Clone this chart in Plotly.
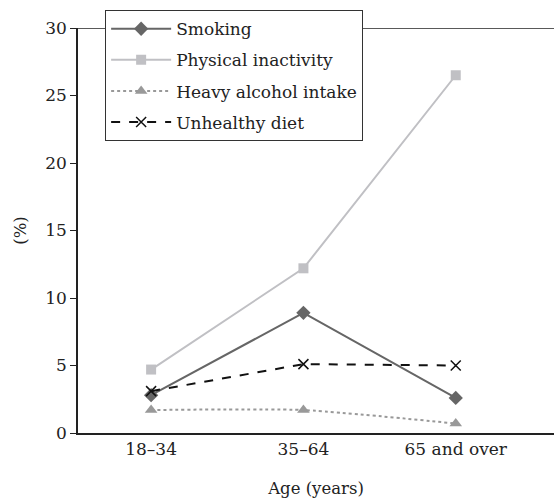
import plotly.graph_objects as go

categories = ["18–34", "35–64", "65 and over"]
smoking = [2.8, 8.9, 2.6]
inactivity = [4.7, 12.2, 26.5]
alcohol = [1.7, 1.7, 0.7]
diet = [3.1, 5.1, 5.0]
y_ticks = [0, 5, 10, 15, 20, 25, 30]

xpos = list(range(len(categories)))
FONT = "DejaVu Serif"

fig = go.Figure()
fig.add_trace(go.Scatter(x=xpos, y=smoking, name="Smoking", mode="lines+markers", legendgroup="a",
                         line=dict(color="#666666", width=2),
                         marker=dict(symbol="diamond", size=11, color="#666666")))
fig.add_trace(go.Scatter(x=xpos, y=inactivity, name="Physical inactivity", mode="lines+markers", legendgroup="b",
                         line=dict(color="#c0c0c4", width=2),
                         marker=dict(symbol="square", size=10, color="#c0c0c4")))
fig.add_trace(go.Scatter(x=xpos, y=alcohol, name="Heavy alcohol intake", mode="lines+markers", legendgroup="c",
                         line=dict(color="#999999", width=2, dash="dot", shape="spline", smoothing=0.6),
                         marker=dict(symbol="triangle-up", size=11, color="#999999")))
fig.add_trace(go.Scatter(x=xpos, y=diet, name="Unhealthy diet", mode="lines+markers", legendgroup="d",
                         line=dict(color="#111111", width=2, dash="dash"),
                         marker=dict(symbol="x-thin", size=10, color="#111111",
                                     line=dict(color="#111111", width=1.5))))

fig.update_layout(
    width=554, height=501,
    margin=dict(l=78, r=0, t=28, b=68, autoexpand=False),
    paper_bgcolor="white", plot_bgcolor="white",
    font=dict(family=FONT, size=17, color="#222222"),
    showlegend=True,
    legend=dict(x=0.057, y=1.044, xanchor="left", yanchor="top",
                bordercolor="#333333", borderwidth=1, bgcolor="white",
                font=dict(family=FONT, size=17, color="#222222"),
                itemwidth=60, tracegroupgap=6),
    xaxis=dict(range=[-0.48, 2.645], tickmode="array", tickvals=xpos, ticktext=categories,
               showgrid=False, zeroline=False, showline=True, linecolor="#222222", linewidth=1.5,
               mirror=False, ticks="", title=dict(text="Age (years)", standoff=24, font=dict(size=16.5)),
               tickfont=dict(size=17)),
    yaxis=dict(range=[0, 30], tickmode="array", tickvals=y_ticks,
               showgrid=False, zeroline=False, showline=True, linecolor="#222222", linewidth=1.5,
               ticks="outside", ticklen=6, tickcolor="#222222",
               title=dict(text="(%)", standoff=14, font=dict(size=16.5)), tickfont=dict(size=17)),
    shapes=[dict(type="line", xref="paper", yref="y", x0=0, x1=1, y0=30, y1=30,
                 line=dict(color="#222222", width=1.5), layer="below")],
)

fig.write_html("out.html", config={"displayModeBar": False},
               post_script="document.body.style.margin='0';document.body.style.overflow='hidden';")
